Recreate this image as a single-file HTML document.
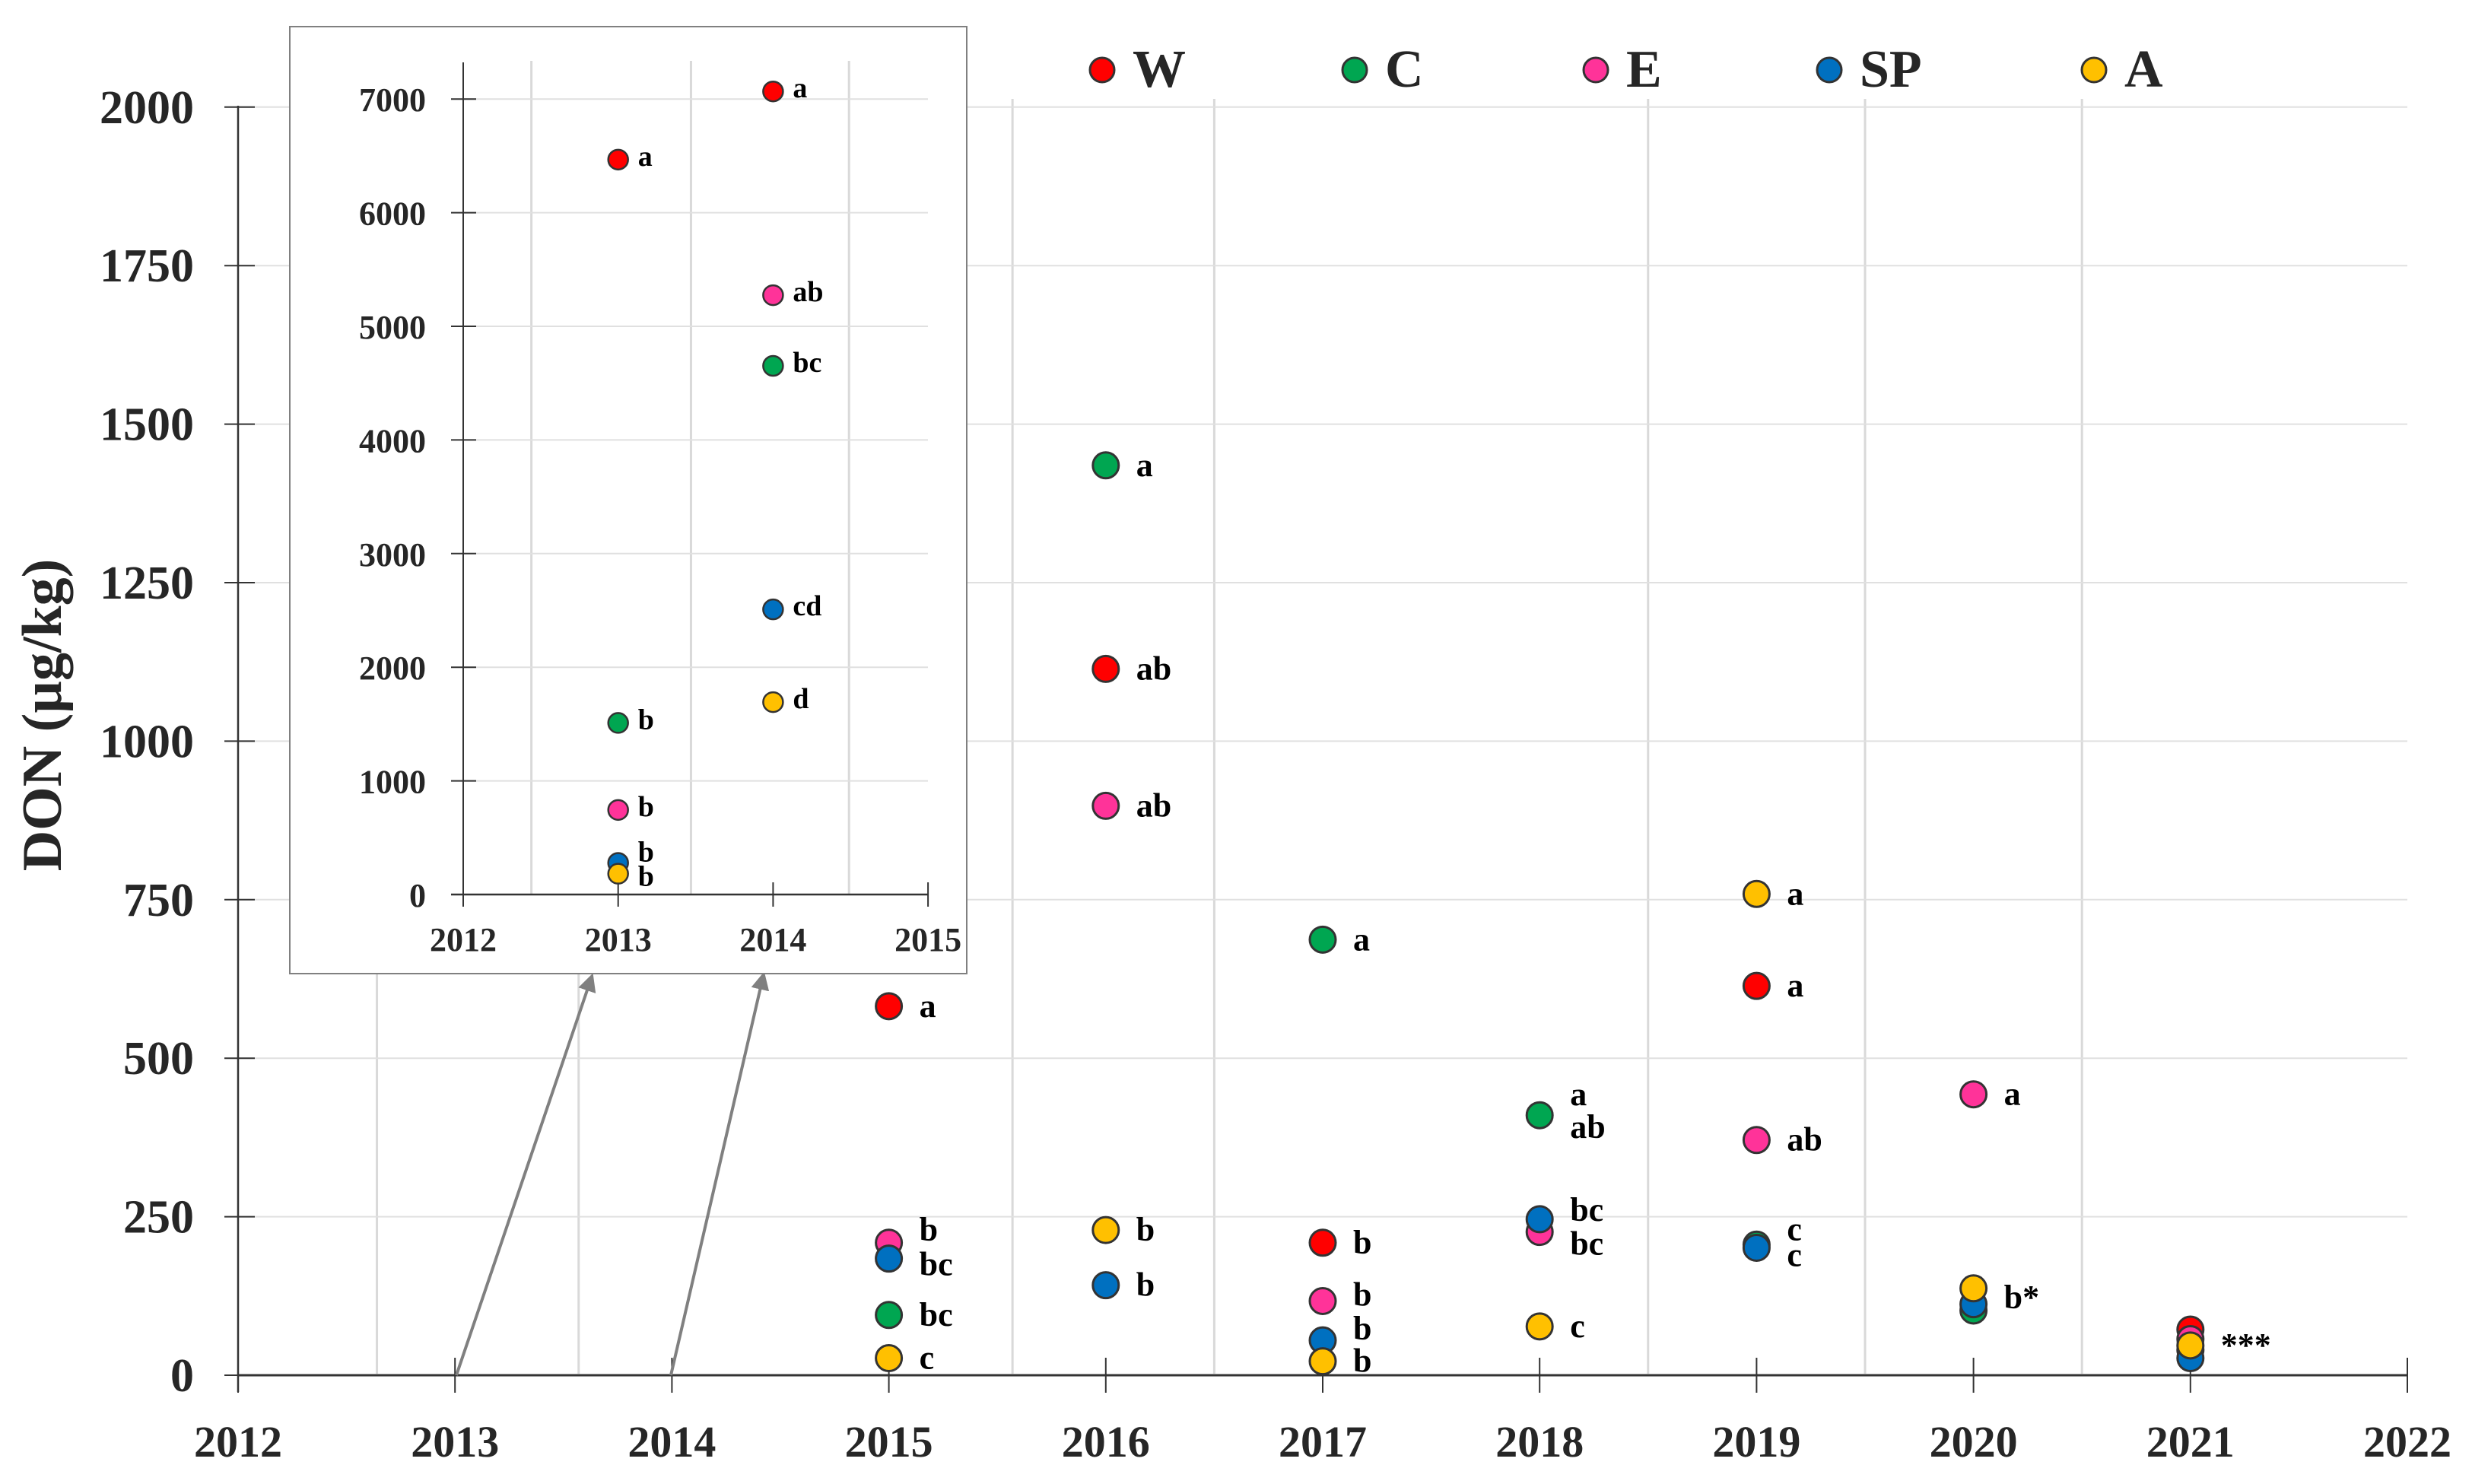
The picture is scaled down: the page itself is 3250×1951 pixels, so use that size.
<!DOCTYPE html>
<html><head><meta charset="utf-8"><style>
html,body{margin:0;padding:0;background:#fff;}
svg{display:block;font-family:"Liberation Serif",serif;font-weight:bold;}
</style></head><body>
<svg id="chart" width="3250" height="1951" viewBox="0 0 3250 1951" xmlns="http://www.w3.org/2000/svg">
<g id="main"></g>
<g id="legend"></g>
<g id="inset"></g>
</svg>
<script>
const series = ['W','C','E','SP','A'];
const colors = ['#ff0000','#00a651','#ff3399','#0070c0','#ffc000'];
const years = [2015,2016,2017,2018,2019,2020,2021];
const valW  = [582,1114,209,null,614,null,72];
const valC  = [95,1435,687,410,206,102,40];
const valE  = [209,898,117,226,371,443,57];
const valSP = [184,142,55,246,201,112,27];
const valA  = [27,229,22,77,759,137,47];
const labW  = ['a','ab','b','','a','',''];
const labC  = ['bc','a','a','a|ab','c','',''];
const labE  = ['b','ab','b','bc','ab','a',''];
const labSP = ['bc','b','b','bc','c','',''];
const labA  = ['c','b','b','c','a','b*','***'];
const yTicks = [0,250,500,750,1000,1250,1500,1750,2000];
const xTicks = [2012,2013,2014,2015,2016,2017,2018,2019,2020,2021,2022];
const insetYears = [2013,2014];
const insW  = [6467,7067];
const insC  = [1510,4652];
const insE  = [744,5274];
const insSP = [278,2509];
const insA  = [183,1693];
const insLabW  = ['a','a'];
const insLabC  = ['b','bc'];
const insLabE  = ['b','ab'];
const insLabSP = ['b','cd'];
const insLabA  = ['b','d'];
const insYTicks = [0,1000,2000,3000,4000,5000,6000,7000];
const insXTicks = [2012,2013,2014,2015];

// label layout nudges (pixels, not data)
const nudge = {
  'E-2015':-17,'SP-2015':8,'E-2017':-8,'SP-2017':-15,
  'SP-2018':-12,'E-2018':16,'C-2019':-20,'SP-2019':10,'A-2020':12
};
const insNudge = {'SP-2013':-10,'A-2013':8};

const NS='http://www.w3.org/2000/svg';
function mk(parent,tag,attrs,text){const e=document.createElementNS(NS,tag);for(const k in attrs)e.setAttribute(k,attrs[k]);if(text!==undefined)e.textContent=text;parent.appendChild(e);return e;}
const X=v=>313+(v-2012)*285.2;
const Y=v=>1808-v*0.8336;
const main=document.getElementById('main');
[2012.64,2013.57,2015.57,2016.5,2018.5,2019.5,2020.5].forEach(g=>{
  const l=mk(main,'line',{x1:X(g),x2:X(g),y1:130,y2:1806,stroke:'#d9d9d9','stroke-width':3});
  
  
});
yTicks.forEach(t=>{
  if(t>0){const l=mk(main,'line',{x1:313,x2:3165,y1:Y(t),y2:Y(t),stroke:'#e0e0e0','stroke-width':2});
  
  }
  const tk=mk(main,'line',{x1:295,x2:335,y1:Y(t),y2:Y(t),stroke:'#333','stroke-width':2});
  
  
  const tx=mk(main,'text',{x:255,y:Y(t)+21,'text-anchor':'end','font-size':62,fill:'#262626'},t);
  
  
});
mk(main,'line',{x1:313,x2:313,y1:139,y2:1830,stroke:'#333','stroke-width':2.5});
mk(main,'line',{x1:313,x2:3165,y1:1808,y2:1808,stroke:'#333','stroke-width':3});
xTicks.forEach(t=>{
  const tk=mk(main,'line',{x1:X(t),x2:X(t),y1:1785,y2:1831,stroke:'#333','stroke-width':2});
  
  
  const tx=mk(main,'text',{x:X(t),y:1915,'text-anchor':'middle','font-size':58,fill:'#262626'},t);
  
  
});
const yt=mk(main,'text',{x:0,y:0,transform:'translate(80,940) rotate(-90)','text-anchor':'middle','font-size':74,fill:'#262626'},'DON (µg/kg)');


mk(main,'defs',{}).innerHTML='<marker id="ah" markerWidth="6" markerHeight="6" refX="4" refY="3" orient="auto"><path d="M0,0 L6,3 L0,6 Z" fill="#808080"/></marker>';
[[600,1808,777,1287],[882,1808,1003,1285]].forEach(a=>{
  const l=mk(main,'line',{x1:a[0],y1:a[1],x2:a[2],y2:a[3],stroke:'#808080','stroke-width':4,'marker-end':'url(#ah)'});
  
  
});
const vals=[valW,valC,valE,valSP,valA];
const labs=[labW,labC,labE,labSP,labA];
series.forEach((s,si)=>{
  years.forEach((yr,i)=>{
    const v=vals[si][i]; if(v===null)return;
    const c=mk(main,'circle',{cx:X(yr),cy:Y(v),r:17,fill:colors[si],stroke:'#333','stroke-width':3});
    
    
    const lb=labs[si][i];
    if(!lb)return;
    const parts=lb.split('|');
    const base=nudge[s+'-'+yr]||0;
    parts.forEach((p,pi)=>{
      const off=parts.length>1?(pi===0?-27:16):base;
      const t=mk(main,'text',{x:X(yr)+40,y:Y(v)+14+off,'font-size':44,fill:'#000'},p);
      
      
    });
  });
});
const lx=[1449,1781,2098,2405,2753];
const lg=document.getElementById('legend');
series.forEach((s,i)=>{
  const c=mk(lg,'circle',{cx:lx[i],cy:92,r:16,fill:colors[i],stroke:'#333','stroke-width':3});
  
  
  const t=mk(lg,'text',{x:lx[i]+40,y:114,'font-size':70,fill:'#262626'},s);
  
  
});
const ins=document.getElementById('inset');
mk(ins,'rect',{x:381,y:35,width:890,height:1245,fill:'#fff',stroke:'#808080','stroke-width':2});
const IX=v=>609+(v-2012)*203.7;
const IY=v=>1176-v*0.1494;
[2012.44,2013.47,2014.49].forEach(g=>{
  const l=mk(ins,'line',{x1:IX(g),x2:IX(g),y1:80,y2:1176,stroke:'#d9d9d9','stroke-width':3});
  
  
});
insYTicks.forEach(t=>{
  if(t>0){const l=mk(ins,'line',{x1:609,x2:1220,y1:IY(t),y2:IY(t),stroke:'#e0e0e0','stroke-width':2});
  
  }
  mk(ins,'line',{x1:593,x2:626,y1:IY(t),y2:IY(t),stroke:'#333','stroke-width':2});
  const tx=mk(ins,'text',{x:560,y:IY(t)+16,'text-anchor':'end','font-size':44,fill:'#262626'},t);
  
  
});
mk(ins,'line',{x1:609,x2:609,y1:82,y2:1190,stroke:'#333','stroke-width':2});
mk(ins,'line',{x1:593,x2:1220,y1:1176,y2:1176,stroke:'#333','stroke-width':2.5});
insXTicks.forEach(t=>{
  mk(ins,'line',{x1:IX(t),x2:IX(t),y1:1160,y2:1192,stroke:'#333','stroke-width':2});
  const tx=mk(ins,'text',{x:IX(t),y:1250,'text-anchor':'middle','font-size':44,fill:'#262626'},t);
  
  
});
const ivals=[insW,insC,insE,insSP,insA];
const ilabs=[insLabW,insLabC,insLabE,insLabSP,insLabA];
series.forEach((s,si)=>{
  insetYears.forEach((yr,i)=>{
    const v=ivals[si][i];
    const c=mk(ins,'circle',{cx:IX(yr),cy:IY(v),r:13,fill:colors[si],stroke:'#333','stroke-width':2.5});
    
    
    const off=insNudge[s+'-'+yr]||0;
    const t=mk(ins,'text',{x:IX(yr)+26,y:IY(v)+8+off,'font-size':38,fill:'#000'},ilabs[si][i]);
    
    
  });
});
</script>
</body></html>
